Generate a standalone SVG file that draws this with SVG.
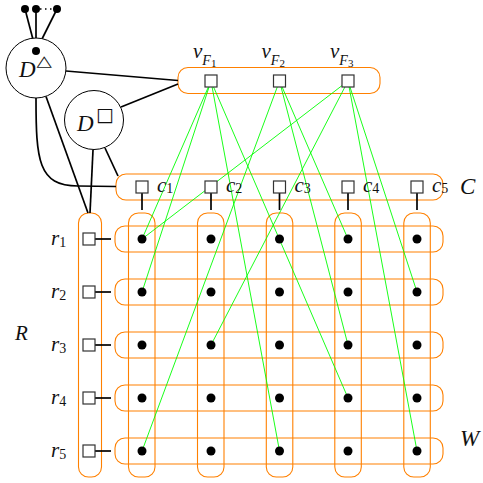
<svg xmlns="http://www.w3.org/2000/svg" width="483" height="483" viewBox="0 0 483 483">
<style>
.box{fill:none;stroke:#ff8000;stroke-width:1.1}
.g{stroke:#00ff00;stroke-width:0.9;fill:none}
.k{stroke:#000;stroke-width:1.7;fill:none}
.sq{fill:#fff;stroke:#333;stroke-width:1.2}
.dot{fill:#000}
.circ{fill:#fff;stroke:#000;stroke-width:1}
.t{font-family:"Liberation Serif",serif;font-style:italic;font-size:21px;fill:#111}
.s{font-size:14px}
.n{font-style:normal}
.ss{font-size:11px;font-style:normal}
.sym{font-family:"DejaVu Sans",sans-serif;font-style:normal;fill:#111}
</style>

<g id="boxes">
  <rect id="R-box" class="box" x="78.5" y="213" width="23" height="264" rx="10"/>
  <g id="col-boxes">
    <rect class="box" x="128.5" y="213" width="26.5" height="264" rx="10"/>
    <rect class="box" x="197.5" y="213" width="26.5" height="264" rx="10"/>
    <rect class="box" x="266.3" y="213" width="26.5" height="264" rx="10"/>
    <rect class="box" x="334.8" y="213" width="26.5" height="264" rx="10"/>
    <rect class="box" x="403.8" y="213" width="26.5" height="264" rx="10"/>
  </g>
  <g id="row-boxes">
    <rect class="box" x="115" y="226" width="328" height="26" rx="10"/>
    <rect class="box" x="115" y="279" width="328" height="26" rx="10"/>
    <rect class="box" x="115" y="332" width="328" height="26" rx="10"/>
    <rect class="box" x="115" y="385" width="328" height="26" rx="10"/>
    <rect class="box" x="115" y="438" width="328" height="26" rx="10"/>
  </g>
  <rect id="C-box" class="box" x="116" y="174" width="327" height="26" rx="10"/>
  <rect id="VF-box" class="box" x="178" y="67.5" width="202" height="26" rx="10"/>
</g>

<g id="connectors">
  <g id="green">
    <line class="g" x1="211" y1="81" x2="142" y2="239"/>
    <line class="g" x1="211" y1="81" x2="142" y2="292"/>
    <line class="g" x1="211" y1="81" x2="279.5" y2="451"/>
    <line class="g" x1="211" y1="81" x2="348" y2="398"/>
    <line class="g" x1="279.5" y1="81" x2="142" y2="451"/>
    <line class="g" x1="279.5" y1="81" x2="348" y2="345"/>
    <line class="g" x1="279.5" y1="81" x2="348" y2="239"/>
    <line class="g" x1="348" y1="81" x2="142" y2="239"/>
    <line class="g" x1="348" y1="81" x2="211" y2="345"/>
    <line class="g" x1="348" y1="81" x2="417" y2="451"/>
    <line class="g" x1="348" y1="81" x2="417" y2="292"/>
  </g>
  <g id="black">
    <line class="k" x1="36" y1="51" x2="25" y2="9"/>
    <line class="k" x1="36" y1="51" x2="36" y2="9"/>
    <line class="k" x1="36" y1="51" x2="57" y2="9"/>
    <line x1="40" y1="9" x2="54" y2="9" stroke="#000" stroke-width="1.6" stroke-dasharray="1.5 3.5"/>
    <line class="k" x1="66" y1="71" x2="178" y2="80.5"/>
    <line class="k" x1="121" y1="107" x2="178" y2="84"/>
    <path class="k" d="M36,98 C36,160 38,186 78,186 L116,186.5"/>
    <line class="k" x1="46" y1="96.5" x2="88" y2="213"/>
    <line class="k" x1="93" y1="150" x2="90" y2="213"/>
    <line class="k" x1="105" y1="148" x2="118" y2="176"/>
    <line class="k" x1="142" y1="193" x2="142" y2="210"/>
    <line class="k" x1="211" y1="193" x2="211" y2="210"/>
    <line class="k" x1="279.5" y1="193" x2="279.5" y2="210"/>
    <line class="k" x1="348" y1="193" x2="348" y2="210"/>
    <line class="k" x1="417" y1="193" x2="417" y2="210"/>
    <line class="k" x1="95" y1="239" x2="111" y2="239"/>
    <line class="k" x1="95" y1="292" x2="111" y2="292"/>
    <line class="k" x1="95" y1="345" x2="111" y2="345"/>
    <line class="k" x1="95" y1="398" x2="111" y2="398"/>
    <line class="k" x1="95" y1="451" x2="111" y2="451"/>
  </g>
</g>

<g id="D-tri">
  <circle class="circ" cx="36" cy="68" r="30"/>
  <circle class="dot" cx="36" cy="51" r="4"/>
  <circle class="dot" cx="25" cy="9" r="4"/>
  <circle class="dot" cx="36" cy="9" r="4"/>
  <circle class="dot" cx="57" cy="9" r="4"/>
  <text class="t" x="19" y="77" style="font-size:23px">D</text>
  <text class="sym" transform="translate(36.5,65.5) scale(1,0.75)" style="font-size:20px">△</text>
</g>
<g id="D-sq">
  <circle class="circ" cx="94" cy="120" r="29.5"/>
  <text class="t" x="77" y="131" style="font-size:23px">D</text>
  <text class="sym" x="96" y="121" style="font-size:19px">□</text>
</g>

<g id="VF">
  <g id="vF1"><rect class="sq" x="205" y="75" width="12" height="12"/>
    <text class="t" x="193" y="58">v<tspan class="s" dy="7">F</tspan><tspan class="ss" dy="1.5">1</tspan></text></g>
  <g id="vF2"><rect class="sq" x="273.5" y="75" width="12" height="12"/>
    <text class="t" x="261.5" y="58">v<tspan class="s" dy="7">F</tspan><tspan class="ss" dy="1.5">2</tspan></text></g>
  <g id="vF3"><rect class="sq" x="342" y="75" width="12" height="12"/>
    <text class="t" x="330" y="58">v<tspan class="s" dy="7">F</tspan><tspan class="ss" dy="1.5">3</tspan></text></g>
</g>

<g id="C">
  <g id="c1"><rect class="sq" x="136" y="181" width="12" height="12"/><text class="t" x="157" y="191.5">c<tspan class="s n" dy="1.5">1</tspan></text></g>
  <g id="c2"><rect class="sq" x="205" y="181" width="12" height="12"/><text class="t" x="226" y="191.5">c<tspan class="s n" dy="1.5">2</tspan></text></g>
  <g id="c3"><rect class="sq" x="273.5" y="181" width="12" height="12"/><text class="t" x="294.5" y="191.5">c<tspan class="s n" dy="1.5">3</tspan></text></g>
  <g id="c4"><rect class="sq" x="342" y="181" width="12" height="12"/><text class="t" x="363" y="191.5">c<tspan class="s n" dy="1.5">4</tspan></text></g>
  <g id="c5"><rect class="sq" x="411" y="181" width="12" height="12"/><text class="t" x="432" y="191.5">c<tspan class="s n" dy="1.5">5</tspan></text></g>
  <text class="t" x="460" y="194" style="font-size:23px">C</text>
</g>

<g id="R">
  <g id="r1"><rect class="sq" x="83" y="233" width="12" height="12"/><text class="t" x="51" y="245">r<tspan class="s n" dy="2">1</tspan></text></g>
  <g id="r2"><rect class="sq" x="83" y="286" width="12" height="12"/><text class="t" x="51" y="298">r<tspan class="s n" dy="2">2</tspan></text></g>
  <g id="r3"><rect class="sq" x="83" y="339" width="12" height="12"/><text class="t" x="51" y="351">r<tspan class="s n" dy="2">3</tspan></text></g>
  <g id="r4"><rect class="sq" x="83" y="392" width="12" height="12"/><text class="t" x="51" y="404">r<tspan class="s n" dy="2">4</tspan></text></g>
  <g id="r5"><rect class="sq" x="83" y="445" width="12" height="12"/><text class="t" x="51" y="457">r<tspan class="s n" dy="2">5</tspan></text></g>
  <text class="t" x="15" y="340">R</text>
</g>

<g id="W">
  <g id="dots">
    <circle class="dot" cx="142" cy="239" r="4.5"/><circle class="dot" cx="211" cy="239" r="4.5"/><circle class="dot" cx="279.5" cy="239" r="4.5"/><circle class="dot" cx="348" cy="239" r="4.5"/><circle class="dot" cx="417" cy="239" r="4.5"/>
    <circle class="dot" cx="142" cy="292" r="4.5"/><circle class="dot" cx="211" cy="292" r="4.5"/><circle class="dot" cx="279.5" cy="292" r="4.5"/><circle class="dot" cx="348" cy="292" r="4.5"/><circle class="dot" cx="417" cy="292" r="4.5"/>
    <circle class="dot" cx="142" cy="345" r="4.5"/><circle class="dot" cx="211" cy="345" r="4.5"/><circle class="dot" cx="279.5" cy="345" r="4.5"/><circle class="dot" cx="348" cy="345" r="4.5"/><circle class="dot" cx="417" cy="345" r="4.5"/>
    <circle class="dot" cx="142" cy="398" r="4.5"/><circle class="dot" cx="211" cy="398" r="4.5"/><circle class="dot" cx="279.5" cy="398" r="4.5"/><circle class="dot" cx="348" cy="398" r="4.5"/><circle class="dot" cx="417" cy="398" r="4.5"/>
    <circle class="dot" cx="142" cy="451" r="4.5"/><circle class="dot" cx="211" cy="451" r="4.5"/><circle class="dot" cx="279.5" cy="451" r="4.5"/><circle class="dot" cx="348" cy="451" r="4.5"/><circle class="dot" cx="417" cy="451" r="4.5"/>
  </g>
  <text class="t" x="460" y="446" style="font-size:23px">W</text>
</g>
</svg>
